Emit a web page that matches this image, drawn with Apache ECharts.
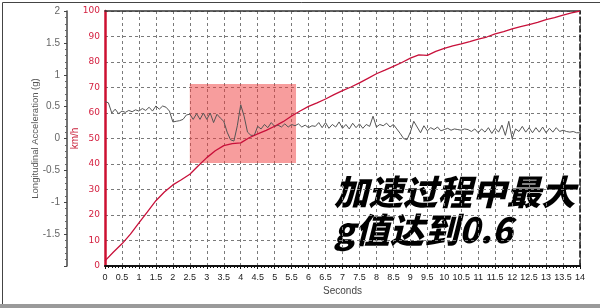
<!DOCTYPE html>
<html>
<head>
<meta charset="utf-8">
<script src="https://cdn.jsdelivr.net/npm/echarts@6/dist/echarts.min.js"></script>
<style>html,body{margin:0;padding:0;background:#fff}#c{width:600px;height:308px}</style>
</head>
<body>
<div id="c"></div>
<script>
// speed (km/h) samples
var speedTime = [0,0.25,0.5,0.75,1,1.25,1.5,1.75,2,2.25,2.5,2.75,3,3.25,3.5,3.75,4,4.25,4.5,4.75,5,5.25,5.5,5.75,6,6.25,6.5,6.75,7,7.25,7.5,7.75,8,8.25,8.5,8.75,9,9.25,9.5,9.75,10,10.25,10.5,10.75,11,11.25,11.5,11.75,12,12.25,12.5,12.75,13,13.25,13.5,13.75,14];
var speedValues = [2.0,5.5,8.7,12.5,16.9,21.2,25.6,29.0,31.8,33.8,36.0,39.3,42.5,45.2,47.2,48.0,48.3,50.3,51.8,53.2,54.8,56.6,58.8,60.8,62.6,64.0,65.5,67.2,68.8,70.2,71.8,73.6,75.4,76.8,78.3,79.8,81.5,82.8,82.6,84.2,85.3,86.3,87.1,88.0,89.0,89.8,91.0,91.9,93.0,93.9,94.7,95.5,96.6,97.4,98.4,99.3,100.0];
// longitudinal acceleration (g), sampled every 0.1 s from 0 s
var gStep = 0.1;
var gValues = [0.58,0.56,0.40,0.46,0.39,0.43,0.41,0.44,0.42,0.45,
0.43,0.47,0.44,0.49,0.43,0.51,0.46,0.51,0.49,0.43,
0.26,0.27,0.28,0.30,0.37,0.38,0.30,0.39,0.30,0.40,
0.30,0.40,0.25,0.38,0.32,0.27,0.10,-0.02,-0.04,0.20,
0.53,0.35,0.10,0.05,0.05,0.19,0.15,0.22,0.17,0.25,
0.19,0.21,0.18,0.23,0.18,0.22,0.20,0.23,0.18,0.21,
0.17,0.20,0.19,0.25,0.17,0.25,0.16,0.22,0.18,0.26,
0.16,0.22,0.15,0.24,0.17,0.23,0.16,0.22,0.19,0.35,
0.18,0.22,0.20,0.24,0.18,0.22,0.15,0.08,0.00,-0.02,
0.10,0.27,0.18,0.09,0.20,0.12,0.17,0.14,0.18,0.12,
0.14,0.16,0.13,0.15,0.14,0.13,0.15,0.14,0.11,0.15,
0.09,0.15,0.10,0.17,0.08,0.16,0.10,0.21,0.05,0.27,
0.00,0.15,0.11,0.19,0.10,0.17,0.09,0.17,0.10,0.18,
0.09,0.16,0.10,0.17,0.11,0.13,0.11,0.10,0.11,0.09,0.09];
// highlighted window: seconds and km/h
var boxTime = [2.5, 5.63];
var boxSpeed = [40.4, 71.4];
var captionLines = ['加速过程中最大', 'g值达到0.6'];

var speedData = speedTime.map(function(t,i){return [t, speedValues[i]];});
var gData = gValues.map(function(v,i){return [+(i*gStep).toFixed(2), v];});

var chart = echarts.init(document.getElementById('c'), null, {renderer:'canvas'});
var dash = {type:[3,3], color:'#7a7a7a', width:1};
chart.setOption({
  animation:false,
  backgroundColor:'#fff',
  grid:{left:105, right:20, top:11, bottom:42, containLabel:false},
  xAxis:[{
    type:'value', min:0, max:14, interval:0.5, position:'bottom',
    axisLine:{show:true, onZero:false, lineStyle:{color:'#111', width:2}},
    axisTick:{show:true, length:3, lineStyle:{color:'#111'}},
    minorTick:{show:true, splitNumber:5, length:2, lineStyle:{color:'#111'}},
    axisLabel:{fontSize:9, color:'#222', margin:7, fontFamily:'Liberation Sans, Arial'},
    splitLine:{show:true, lineStyle:dash},
    name:'Seconds', nameLocation:'middle', nameGap:20, nameMoveOverlap:false,
    nameTextStyle:{fontSize:10, color:'#444', fontFamily:'Liberation Sans, Arial'}
  },{
    type:'value', min:0, max:14, position:'top',
    axisLine:{show:true, onZero:false, lineStyle:{color:'#333', width:1.5}},
    axisTick:{show:false}, axisLabel:{show:false}, splitLine:{show:false}
  }],
  yAxis:[{
    type:'value', min:0, max:100, interval:10, position:'left',
    axisLine:{show:true, onZero:false, lineStyle:{color:'#cc1030', width:2.5}},
    axisTick:{show:false},
    axisLabel:{fontSize:9, color:'#d42040', margin:5, fontFamily:'DejaVu Sans'},
    splitLine:{show:true, lineStyle:dash},
    name:'km/h', nameLocation:'middle', nameGap:25, nameMoveOverlap:false,
    nameTextStyle:{fontSize:10, color:'#c8203a', fontFamily:'Liberation Sans, Arial'}
  },{
    type:'value', min:-2, max:2, interval:0.5, position:'left', offset:38,
    axisLine:{show:true, onZero:false, lineStyle:{color:'#444', width:1.5}},
    axisTick:{show:true, length:3, lineStyle:{color:'#444'}},
    minorTick:{show:true, splitNumber:5, length:2, lineStyle:{color:'#666'}},
    axisLabel:{fontSize:10, color:'#666', margin:7, fontFamily:'Liberation Sans, Arial',
      formatter:function(v){return v === -2 ? '' : String(v);}},
    splitLine:{show:false},
    name:'Longitudinal Acceleration (g)', nameLocation:'middle', nameGap:27, nameMoveOverlap:false,
    nameTextStyle:{fontSize:9.5, color:'#555', fontFamily:'Liberation Sans, Arial'}
  },{
    type:'value', min:0, max:100, position:'right',
    axisLine:{show:true, onZero:false, lineStyle:{color:'#111', width:1.5, type:[6,3]}},
    axisTick:{show:false}, axisLabel:{show:false}, splitLine:{show:false}
  }],
  series:[{
    type:'line', xAxisIndex:0, yAxisIndex:0, data:[], symbol:'none',
    markArea:{silent:true, itemStyle:{color:'rgba(240,60,60,0.5)'},
      data:[[{xAxis:boxTime[0], yAxis:boxSpeed[0]},{xAxis:boxTime[1], yAxis:boxSpeed[1]}]]}
  },{
    type:'line', xAxisIndex:0, yAxisIndex:1, data:gData, symbol:'none',
    lineStyle:{color:'#555', width:1}
  },{
    type:'line', xAxisIndex:0, yAxisIndex:0, data:speedData, symbol:'none',
    lineStyle:{color:'#c8103a', width:1.3}
  }],
  graphic:[
    {type:'rect', left:0, top:0, shape:{width:599, height:307}, style:{fill:'none', stroke:'#444', lineWidth:1}, silent:true},
    {type:'rect', left:0, top:304, shape:{width:600, height:4}, style:{fill:'#9a9a9a'}, silent:true},
    {type:'text', left:334, top:175, style:{text:captionLines[0], fontSize:34.5, fontWeight:900, fontStyle:'italic', fontFamily:'Noto Sans CJK SC', fill:'#000'}},
    {type:'text', left:334, top:213, style:{text:captionLines[1], fontSize:34.5, fontWeight:900, fontStyle:'italic', fontFamily:'Noto Sans CJK SC', fill:'#000'}}
  ]
});
</script>
</body>
</html>
